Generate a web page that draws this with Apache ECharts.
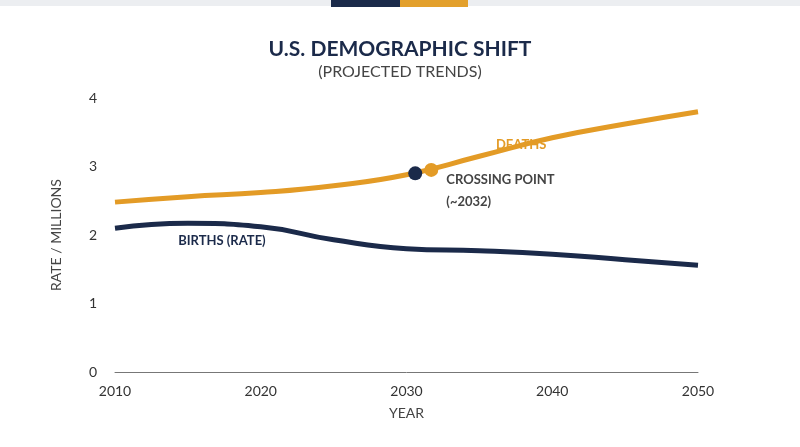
<!DOCTYPE html>
<html>
<head>
<meta charset="utf-8">
<script src="https://cdn.jsdelivr.net/npm/echarts@6/dist/echarts.min.js"></script>
<style>html,body{margin:0;padding:0;background:#fff}#chart{width:800px;height:447px}</style>
</head>
<body>
<div id="chart"></div>
<script>
// 数据
const years = [2010, 2015, 2020, 2025, 2030, 2035, 2040, 2045, 2050];
const deaths = [2.48, 2.56, 2.62, 2.72, 2.88, 3.15, 3.42, 3.62, 3.8];
const births = [2.1, 2.17, 2.12, 1.93, 1.8, 1.77, 1.72, 1.64, 1.56];
const crossBirth = [2030.6, 2.9];
const crossDeath = [2031.7, 2.95];

const NAVY = '#1b2a4a';
const ORANGE = '#e39b26';
const FONT = 'Lato, "Open Sans", sans-serif';

const chart = echarts.init(document.getElementById('chart'));

function note(coord, text, color) {
    return {
        coord: coord, symbol: 'circle', symbolSize: 1,
        itemStyle: { color: 'rgba(0,0,0,0)' },
        label: { show: true, formatter: text, color: color, position: 'right', distance: 0,
                 fontFamily: FONT, fontWeight: 'bold', fontSize: 13, align: 'left', lineHeight: 22 }
    };
}

chart.setOption({
    animation: false,
    title: {
        text: 'U.S. DEMOGRAPHIC SHIFT',
        subtext: '(PROJECTED TRENDS)',
        left: 'center', top: 34, itemGap: 4,
        textStyle: { color: NAVY, fontFamily: FONT, fontWeight: 'bold', fontSize: 21 },
        subtextStyle: { color: '#444', fontFamily: FONT, fontSize: 16 }
    },
    graphic: [
        { type: 'rect', left: 0, top: 0, shape: { width: 800, height: 6 }, style: { fill: '#eceef1' } },
        { type: 'rect', left: 331, top: 0, shape: { width: 69, height: 7 }, style: { fill: NAVY } },
        { type: 'rect', left: 400, top: 0, shape: { width: 68, height: 7 }, style: { fill: '#e3a02c' } }
    ],
    grid: { left: 115, right: 102, top: 98, bottom: 75 },
    xAxis: {
        type: 'value', min: 2010, max: 2050, interval: 10,
        name: 'YEAR', nameLocation: 'middle', nameGap: 34,
        nameTextStyle: { color: '#444', fontFamily: FONT, fontSize: 14 },
        axisLine: { lineStyle: { color: '#777' } },
        axisTick: { show: false }, splitLine: { show: false },
        axisLabel: { color: '#333', fontFamily: FONT, fontSize: 14, margin: 12, formatter: v => String(v) }
    },
    yAxis: {
        type: 'value', min: 0, max: 4, interval: 1,
        name: 'RATE / MILLIONS', nameLocation: 'middle', nameGap: 52,
        nameTextStyle: { color: '#444', fontFamily: FONT, fontSize: 14 },
        axisLine: { show: false },
        axisTick: { show: false }, splitLine: { show: false },
        axisLabel: { color: '#333', fontFamily: FONT, fontSize: 14, margin: 18 }
    },
    series: [
        {
            type: 'line', smooth: 0.5, symbol: 'none',
            data: years.map((y, i) => [y, deaths[i]]),
            lineStyle: { color: ORANGE, width: 5 },
            markPoint: {
                data: [
                    note([2009.7, 2.72], '2.5', ORANGE),
                    note([2050.7, 3.8], '3.8', ORANGE),
                    note([2036.1, 3.32], 'DEATHS', ORANGE),
                    note([2032.7, 2.65], 'CROSSING POINT\n(~2032)', '#444')
                ]
            }
        },
        {
            type: 'line', smooth: 0.5, symbol: 'none',
            data: years.map((y, i) => [y, births[i]]),
            lineStyle: { color: NAVY, width: 5 },
            markPoint: {
                data: [
                    note([2009.6, 1.92], '2.1', NAVY),
                    note([2014.3, 1.92], 'BIRTHS (RATE)', NAVY),
                    note([2050.6, 1.54], '1.56', NAVY)
                ]
            }
        },
        {
            type: 'scatter', symbolSize: 14, z: 5,
            itemStyle: { opacity: 1 },
            data: [{ value: crossBirth, itemStyle: { color: NAVY, opacity: 1 } },
                   { value: crossDeath, itemStyle: { color: ORANGE, opacity: 1 } }]
        }
    ]
});
</script>
</body>
</html>
